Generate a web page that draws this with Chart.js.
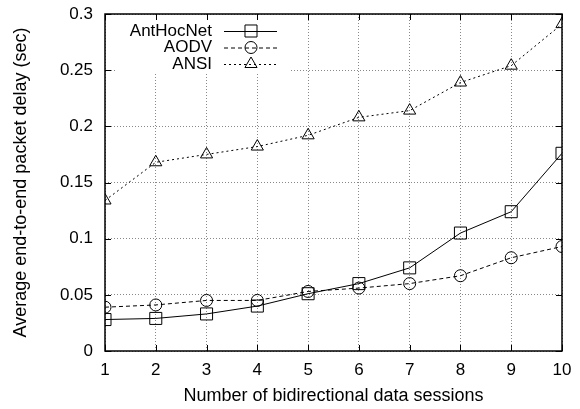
<!DOCTYPE html>
<html>
<head>
<meta charset="utf-8">
<script src="https://cdn.jsdelivr.net/npm/chart.js@4"></script>
<style>
  html, body { margin: 0; padding: 0; background: #fff; }
  #wrap { width: 580px; height: 409px; }
</style>
</head>
<body>
<div id="wrap"><canvas id="delayChart" width="580" height="409"></canvas></div>
<script>
    // --- Data ---
    const sessions = [1, 2, 3, 4, 5, 6, 7, 8, 9, 10];
    const antHocNet = [0.028, 0.029, 0.033, 0.040, 0.051, 0.060, 0.074, 0.105, 0.124, 0.176];
    const aodv = [0.039, 0.041, 0.045, 0.045, 0.053, 0.056, 0.060, 0.067, 0.083, 0.093];
    const ansi = [0.134, 0.168, 0.175, 0.182, 0.192, 0.208, 0.214, 0.239, 0.254, 0.291];
    const yTickLabels = ['0', '0.05', '0.1', '0.15', '0.2', '0.25', '0.3'];
    const seriesNames = ['AntHocNet', 'AODV', 'ANSI'];

    const FONT = '"Liberation Sans", Arial, sans-serif';

    function toPoints(ys) {
      return sessions.map((x, i) => ({ x: x, y: ys[i] }));
    }

    // frame, inner ticks and the key (gnuplot style)
    const framePlugin = {
      id: 'frame',
      beforeDatasetsDraw(chart) {
        const { ctx, chartArea: a } = chart;
        // white box behind key
        ctx.save();
        ctx.fillStyle = '#fff';
        ctx.fillRect(a.left + 10, a.top + 1, 175, 58);
        ctx.restore();
      },
      afterDatasetsDraw(chart) {
        const { ctx, chartArea: a, scales } = chart;
        ctx.save();
        ctx.strokeStyle = '#000';
        ctx.lineWidth = 1.5;
        ctx.strokeRect(a.left, a.top, a.right - a.left, a.bottom - a.top);
        // inner tick marks
        ctx.lineWidth = 1;
        scales.y.ticks.forEach(t => {
          const y = Math.round(scales.y.getPixelForValue(t.value)) + 0.5;
          ctx.beginPath();
          ctx.moveTo(a.left, y); ctx.lineTo(a.left + 6, y);
          ctx.moveTo(a.right, y); ctx.lineTo(a.right - 6, y);
          ctx.stroke();
        });
        scales.x.ticks.forEach(t => {
          const x = Math.round(scales.x.getPixelForValue(t.value)) + 0.5;
          ctx.beginPath();
          ctx.moveTo(x, a.bottom); ctx.lineTo(x, a.bottom - 6);
          ctx.moveTo(x, a.top); ctx.lineTo(x, a.top + 6);
          ctx.stroke();
        });

        // key
        ctx.font = '17px ' + FONT;
        ctx.textAlign = 'right';
        ctx.textBaseline = 'middle';
        chart.data.datasets.forEach((ds, i) => {
          const y = a.top + 17 + i * 16.5;
          ctx.fillStyle = '#000';
          ctx.fillText(ds.label, a.left + 107, y);
          ctx.beginPath();
          ctx.setLineDash(ds.borderDash || []);
          ctx.lineWidth = 1;
          ctx.moveTo(a.left + 119, y + 0.5);
          ctx.lineTo(a.left + 172, y + 0.5);
          ctx.stroke();
          ctx.setLineDash([]);
          ctx.fillStyle = 'rgba(0,0,0,0)';
          Chart.helpers.drawPoint(ctx, {
            pointStyle: ds.pointStyle,
            radius: ds.pointRadius,
            borderWidth: 1
          }, a.left + 146, y);
        });
        ctx.restore();
      }
    };

    const commonDs = {
      borderColor: '#000',
      backgroundColor: 'rgba(0,0,0,0)',
      pointBorderColor: '#000',
      pointBackgroundColor: 'rgba(0,0,0,0)',
      borderWidth: 1,
      pointBorderWidth: 1,
      tension: 0
    };

    new Chart(document.getElementById('delayChart').getContext('2d'), {
      type: 'line',
      data: {
        datasets: [
          Object.assign({}, commonDs, {
            label: seriesNames[0], data: toPoints(antHocNet),
            pointStyle: 'rect', pointRadius: 8.5, borderDash: []
          }),
          Object.assign({}, commonDs, {
            label: seriesNames[1], data: toPoints(aodv),
            pointStyle: 'circle', pointRadius: 6, borderDash: [4, 3]
          }),
          Object.assign({}, commonDs, {
            label: seriesNames[2], data: toPoints(ansi),
            pointStyle: 'triangle', pointRadius: 7, borderDash: [2, 3]
          })
        ]
      },
      options: {
        responsive: false,
        animation: false,
        layout: { padding: { left: 0, right: 18, top: 14, bottom: 0 } },
        plugins: {
          legend: { display: false },
          tooltip: { enabled: false }
        },
        scales: {
          x: {
            type: 'linear',
            min: 1, max: 10,
            afterFit(scale) {
              scale.height = 58;
              scale.paddingLeft = 0;
              scale.paddingRight = 0;
            },
            ticks: {
              stepSize: 1,
              color: '#000',
              font: { family: FONT, size: 17 },
              padding: 9
            },
            grid: { color: '#888', lineWidth: 1, drawTicks: false },
            border: { display: false, dash: [1, 2] },
            title: {
              display: true,
              text: 'Number of bidirectional data sessions',
              color: '#000',
              font: { family: FONT, size: 18 },
              padding: { top: 6, bottom: 2 }
            }
          },
          y: {
            min: 0, max: 0.3,
            afterFit(scale) {
              scale.width = 105;
              scale.paddingTop = 0;
              scale.paddingBottom = 0;
            },
            ticks: {
              stepSize: 0.05,
              color: '#000',
              font: { family: FONT, size: 17 },
              padding: 12,
              callback: (v, i) => yTickLabels[i]
            },
            grid: { color: '#888', lineWidth: 1, drawTicks: false },
            border: { display: false, dash: [1, 2] },
            title: {
              display: true,
              text: 'Average end-to-end packet delay (sec)',
              color: '#000',
              font: { family: FONT, size: 18 },
              padding: { top: 10, bottom: 8 }
            }
          }
        }
      },
      plugins: [framePlugin]
    });
</script>
</body>
</html>
